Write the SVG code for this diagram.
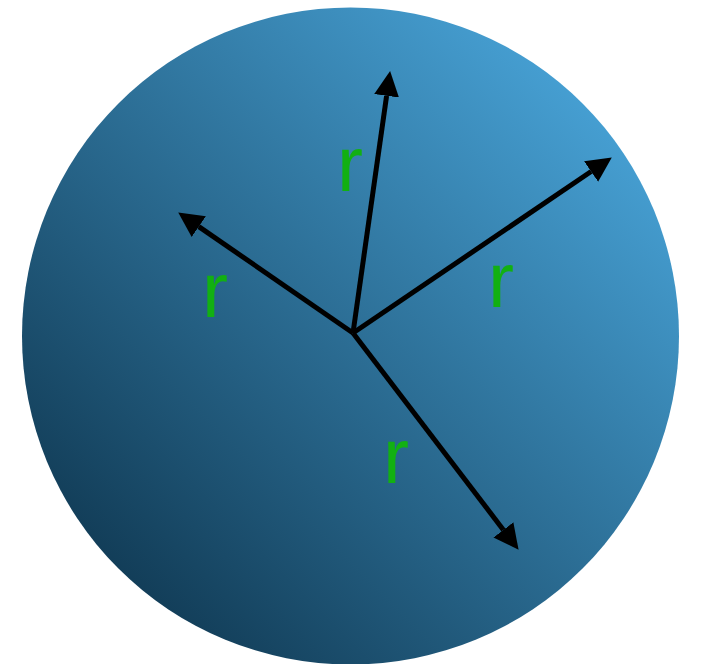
<svg xmlns="http://www.w3.org/2000/svg" width="704" height="664" viewBox="0 0 704 664">
<defs>
<linearGradient id="g" x1="0" y1="1" x2="1" y2="0">
<stop offset="0" stop-color="#082a40"/>
<stop offset="1" stop-color="#50b2ea"/>
</linearGradient>
<marker id="ah" markerUnits="userSpaceOnUse" markerWidth="26" markerHeight="26" viewBox="0 -13 26 26" refX="0" refY="0" orient="auto">
<path d="M0,-12.5 L25,0 L0,12.5 z" fill="#000"/>
</marker>
<style>
.lbl{font-family:"Liberation Sans",Arial,sans-serif;font-size:78px;fill:#12b012}
.ar{stroke:#000;stroke-width:5;fill:none;marker-end:url(#ah)}
</style>
</defs>
<rect width="704" height="664" fill="#fff"/>
<g id="sphere"><circle cx="350.5" cy="336" r="328.5" fill="url(#g)"/></g>
<g id="connectors">
<line class="ar" x1="353" y1="333" x2="386.6" y2="95.8"/>
<line class="ar" x1="353" y1="333" x2="198.8" y2="226.6"/>
<line class="ar" x1="353" y1="333" x2="591.1" y2="171.5"/>
<line class="ar" x1="353" y1="333" x2="503.4" y2="529.9"/>
</g>
<g id="labels">
<text class="lbl" x="337" y="191">r</text>
<text class="lbl" x="202" y="317">r</text>
<text class="lbl" x="488" y="307">r</text>
<text class="lbl" x="383" y="483">r</text>
</g>
</svg>
